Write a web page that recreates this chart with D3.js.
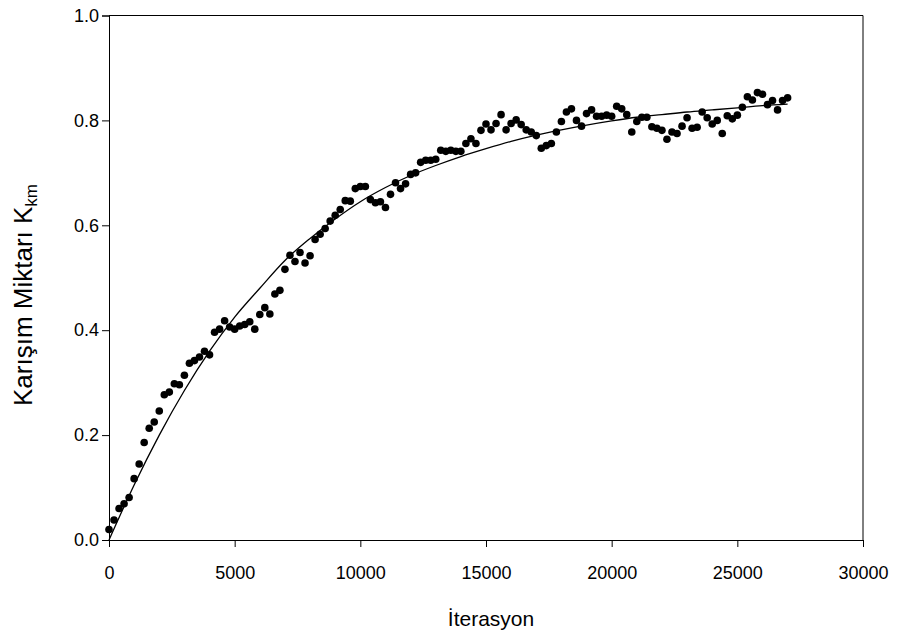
<!DOCTYPE html>
<html>
<head>
<meta charset="utf-8">
<script src="https://cdn.jsdelivr.net/npm/d3@7"></script>
<style>
body { margin: 0; background: #fff; }
text { font-family: "Liberation Sans", Arial, sans-serif; fill: #000; }
</style>
</head>
<body>
<div id="chart"></div>
<script>
// iterations of the measured points
var iterasyon = [
	0, 200, 400, 600, 800, 1000, 1200, 1400, 1600, 1800,
	2000, 2200, 2400, 2600, 2800, 3000, 3200, 3400, 3600, 3800,
	4000, 4200, 4400, 4600, 4800, 5000, 5200, 5400, 5600, 5800,
	6000, 6200, 6400, 6600, 6800, 7000, 7200, 7400, 7600, 7800,
	8000, 8200, 8400, 8600, 8800, 9000, 9200, 9400, 9600, 9800,
	10000, 10200, 10400, 10600, 10800, 11000, 11200, 11400, 11600, 11800,
	12000, 12200, 12400, 12600, 12800, 13000, 13200, 13400, 13600, 13800,
	14000, 14200, 14400, 14600, 14800, 15000, 15200, 15400, 15600, 15800,
	16000, 16200, 16400, 16600, 16800, 17000, 17200, 17400, 17600, 17800,
	18000, 18200, 18400, 18600, 18800, 19000, 19200, 19400, 19600, 19800,
	20000, 20200, 20400, 20600, 20800, 21000, 21200, 21400, 21600, 21800,
	22000, 22200, 22400, 22600, 22800, 23000, 23200, 23400, 23600, 23800,
	24000, 24200, 24400, 24600, 24800, 25000, 25200, 25400, 25600, 25800,
	26000, 26200, 26400, 26600, 26800, 27000
];
// mixing amount K_km at each iteration
var karisim = [
	0.020, 0.038, 0.060, 0.069, 0.081, 0.117, 0.145, 0.186, 0.213, 0.225,
	0.246, 0.277, 0.282, 0.298, 0.296, 0.314, 0.337, 0.342, 0.349, 0.360,
	0.353, 0.396, 0.402, 0.418, 0.406, 0.402, 0.408, 0.411, 0.416, 0.402,
	0.430, 0.443, 0.431, 0.469, 0.476, 0.516, 0.543, 0.531, 0.548, 0.528,
	0.542, 0.573, 0.583, 0.594, 0.608, 0.619, 0.630, 0.647, 0.646, 0.670,
	0.674, 0.674, 0.649, 0.643, 0.645, 0.634, 0.659, 0.681, 0.670, 0.679,
	0.697, 0.700, 0.720, 0.724, 0.724, 0.726, 0.743, 0.741, 0.743, 0.741,
	0.741, 0.756, 0.765, 0.756, 0.781, 0.793, 0.782, 0.794, 0.811, 0.782,
	0.794, 0.801, 0.792, 0.782, 0.778, 0.771, 0.747, 0.752, 0.756, 0.778,
	0.798, 0.816, 0.822, 0.800, 0.789, 0.813, 0.820, 0.808, 0.808, 0.810,
	0.808, 0.827, 0.822, 0.811, 0.778, 0.798, 0.806, 0.806, 0.788, 0.785,
	0.781, 0.764, 0.778, 0.775, 0.789, 0.805, 0.785, 0.787, 0.816, 0.805,
	0.793, 0.800, 0.775, 0.809, 0.803, 0.810, 0.825, 0.845, 0.839, 0.853,
	0.850, 0.830, 0.838, 0.820, 0.838, 0.843
];
// fitted curve
var egriX = [0, 1000, 2000, 3000, 4000, 5000, 6000, 7000, 8000, 9000,
	10000, 11000, 12000, 13000, 14000, 15000, 16000, 17000, 18000, 19000,
	20000, 21000, 22000, 23000, 24000, 25000, 26000, 27000];
var egriY = [0.000, 0.105, 0.200, 0.285, 0.360, 0.425, 0.480, 0.533, 0.575, 0.612,
	0.645, 0.672, 0.695, 0.714, 0.731, 0.746, 0.760, 0.772, 0.782, 0.791,
	0.799, 0.806, 0.811, 0.816, 0.820, 0.824, 0.828, 0.831];

var xTicks = [0, 5000, 10000, 15000, 20000, 25000, 30000];
var yTicks = [0.0, 0.2, 0.4, 0.6, 0.8, 1.0];

var size = {w:899, h:637};
var margin = {top:15.5, right:36, bottom:97, left:109};
var plot_w = size.w - margin.left - margin.right;
var plot_h = size.h - margin.top - margin.bottom;

var svg = d3.select("#chart")
	.append("svg")
	.attr("width", size.w)
	.attr("height", size.h);

var g = svg.append("g")
	.attr("transform", "translate(" + margin.left + "," + margin.top + ")");

var x = d3.scaleLinear().domain([0, 30000]).range([0, plot_w]);
var y = d3.scaleLinear().domain([0, 1]).range([plot_h, 0]);

// frame: top and right lines
g.append("line")
	.attr("x1", 0).attr("x2", plot_w).attr("y1", 0).attr("y2", 0)
	.attr("stroke", "#000").attr("stroke-width", 1);
g.append("line")
	.attr("x1", plot_w).attr("x2", plot_w).attr("y1", 0).attr("y2", plot_h)
	.attr("stroke", "#000").attr("stroke-width", 1);

var xAxis = g.append("g")
	.attr("transform", "translate(0," + plot_h + ")")
	.call(d3.axisBottom(x).tickValues(xTicks).tickFormat(d3.format("d")).tickSizeOuter(0).tickSize(7).tickPadding(19));

var yAxis = g.append("g")
	.call(d3.axisLeft(y).tickValues(yTicks).tickFormat(d3.format(".1f")).tickSizeOuter(0).tickSize(7).tickPadding(3));

[xAxis, yAxis].forEach(function(a) {
	a.selectAll("path, line").attr("stroke", "#000").attr("stroke-width", 1);
	a.selectAll("text").attr("font-size", "18px").attr("fill", "#000")
		.style("font-family", "'Liberation Sans', Arial, sans-serif");
});

// fitted curve
var curveData = egriX.map(function(d, i) { return {x:d, y:egriY[i]}; });
g.append("path")
	.datum(curveData)
	.attr("fill", "none")
	.attr("stroke", "#000")
	.attr("stroke-width", 1.3)
	.attr("d", d3.line()
		.x(function(d) { return x(d.x); })
		.y(function(d) { return y(d.y); })
		.curve(d3.curveMonotoneX));

// measured points
var points = iterasyon.map(function(d, i) { return {x:d, y:karisim[i]}; });
g.selectAll(".dot")
	.data(points)
	.enter().append("circle")
	.attr("class", "dot")
	.attr("cx", function(d) { return x(d.x); })
	.attr("cy", function(d) { return y(d.y); })
	.attr("r", 3.8)
	.attr("fill", "#000");

// axis titles
svg.append("text")
	.attr("x", 491)
	.attr("y", 626)
	.attr("text-anchor", "middle")
	.attr("font-size", "21px")
	.text("İterasyon");

var yTitle = svg.append("text")
	.attr("transform", "translate(32,295) rotate(-90)")
	.attr("text-anchor", "middle")
	.attr("font-size", "26px");
yTitle.append("tspan").text("Karışım Miktarı K");
yTitle.append("tspan").attr("font-size", "17px").attr("dy", 5).text("km");
</script>
</body>
</html>
